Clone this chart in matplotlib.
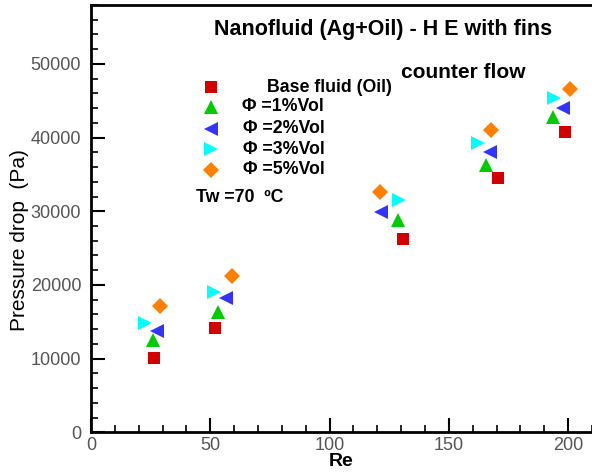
import matplotlib
matplotlib.use("Agg")
import matplotlib.pyplot as plt
from matplotlib.ticker import MultipleLocator

plt.rcParams['font.family'] = ['Liberation Sans', 'DejaVu Sans']

# Reynolds number and pressure drop (Pa) for each fluid
re_base = [26.4, 51.9, 130.7, 170.4, 198.6]
dp_base = [10140, 14130, 26260, 34510, 40760]
re_1 = [26.1, 53.3, 128.6, 165.6, 193.7]
dp_1 = [12540, 16390, 28750, 36220, 42740]
re_2 = [27.7, 56.5, 121.6, 167.4, 197.9]
dp_2 = [13800, 18290, 29840, 38040, 44020]
re_3 = [22.6, 51.5, 129.3, 162.3, 194.1]
dp_3 = [14900, 19020, 31470, 39270, 45380]
re_5 = [28.9, 59.3, 121.2, 167.7, 200.7]
dp_5 = [17160, 21280, 32610, 41070, 46600]

labels = ["Base fluid (Oil)", "\u03A6 =1%Vol", "\u03A6 =2%Vol", "\u03A6 =3%Vol", "\u03A6 =5%Vol"]

W, H = 592, 475
fig = plt.figure(figsize=(W / 100, H / 100), dpi=100)
ax = fig.add_axes([91 / W, (H - 432.3) / H, 1 - 91 / W, (432.3 - 5) / H])

series = [
    (re_base, dp_base, 's', '#d40000', 8),
    (re_1, dp_1, '^', '#00cc00', 10),
    (re_2, dp_2, '<', '#3333ff', 10),
    (re_3, dp_3, '>', '#00ffff', 10),
    (re_5, dp_5, 'D', '#ff8000', 8.5),
]
for x, y, m, c, ms in series:
    ax.plot(x, y, linestyle='none', marker=m, color=c, markersize=ms,
            markeredgewidth=0, clip_on=False)

ax.set_xlim(0, 210)
ax.set_ylim(0, 58000)
ax.xaxis.set_major_locator(MultipleLocator(50))
ax.xaxis.set_minor_locator(MultipleLocator(10))
ax.yaxis.set_major_locator(MultipleLocator(10000))
ax.yaxis.set_minor_locator(MultipleLocator(2000))
ax.tick_params(which='both', direction='in', colors='black',
               labelcolor='#555555', labelsize=13, top=False, right=False)
ax.tick_params(axis='y', pad=7)
ax.tick_params(which='major', length=10, width=1.5)
ax.tick_params(which='minor', length=5, width=1.2)
ax.spines['right'].set_visible(False)
for s in ('left', 'bottom', 'top'):
    ax.spines[s].set_linewidth(2)

ax.set_xlabel("Re", fontsize=14, fontweight='bold', labelpad=-1)
ax.set_ylabel("Pressure drop  (Pa)", fontsize=15)
ax.yaxis.set_label_coords((29 - 91) / 501, (432.3 - 240) / 427.3)


def fpos(px, py):
    return px / W, 1 - py / H


fig.text(*fpos(383, 29), "Nanofluid (Ag+Oil) - H E with fins", fontsize=15.5,
         fontweight='bold', ha='center', va='center')
fig.text(*fpos(401, 73), "counter flow", fontsize=15, fontweight='bold',
         ha='left', va='center')

# legend block
leg_y = [87.3, 106.7, 128.5, 149, 170]
leg_x_txt = [267, 242, 243, 243, 243]
for (x, y, m, c, ms), ly, lx, lab in zip(series, leg_y, leg_x_txt, labels):
    fx, fy = fpos(210.5, ly)
    fig.add_artist(plt.Line2D([fx], [fy], transform=fig.transFigure,
                              linestyle='none', marker=m, color=c,
                              markersize=ms, markeredgewidth=0))
    fig.text(*fpos(lx, ly), lab, fontsize=12.8, fontweight='bold',
             ha='left', va='center')

fig.text(*fpos(196, 197), "Tw =70  \u00BAC", fontsize=12.8, fontweight='bold',
         ha='left', va='center')

fig.savefig("out.png", dpi=100)
